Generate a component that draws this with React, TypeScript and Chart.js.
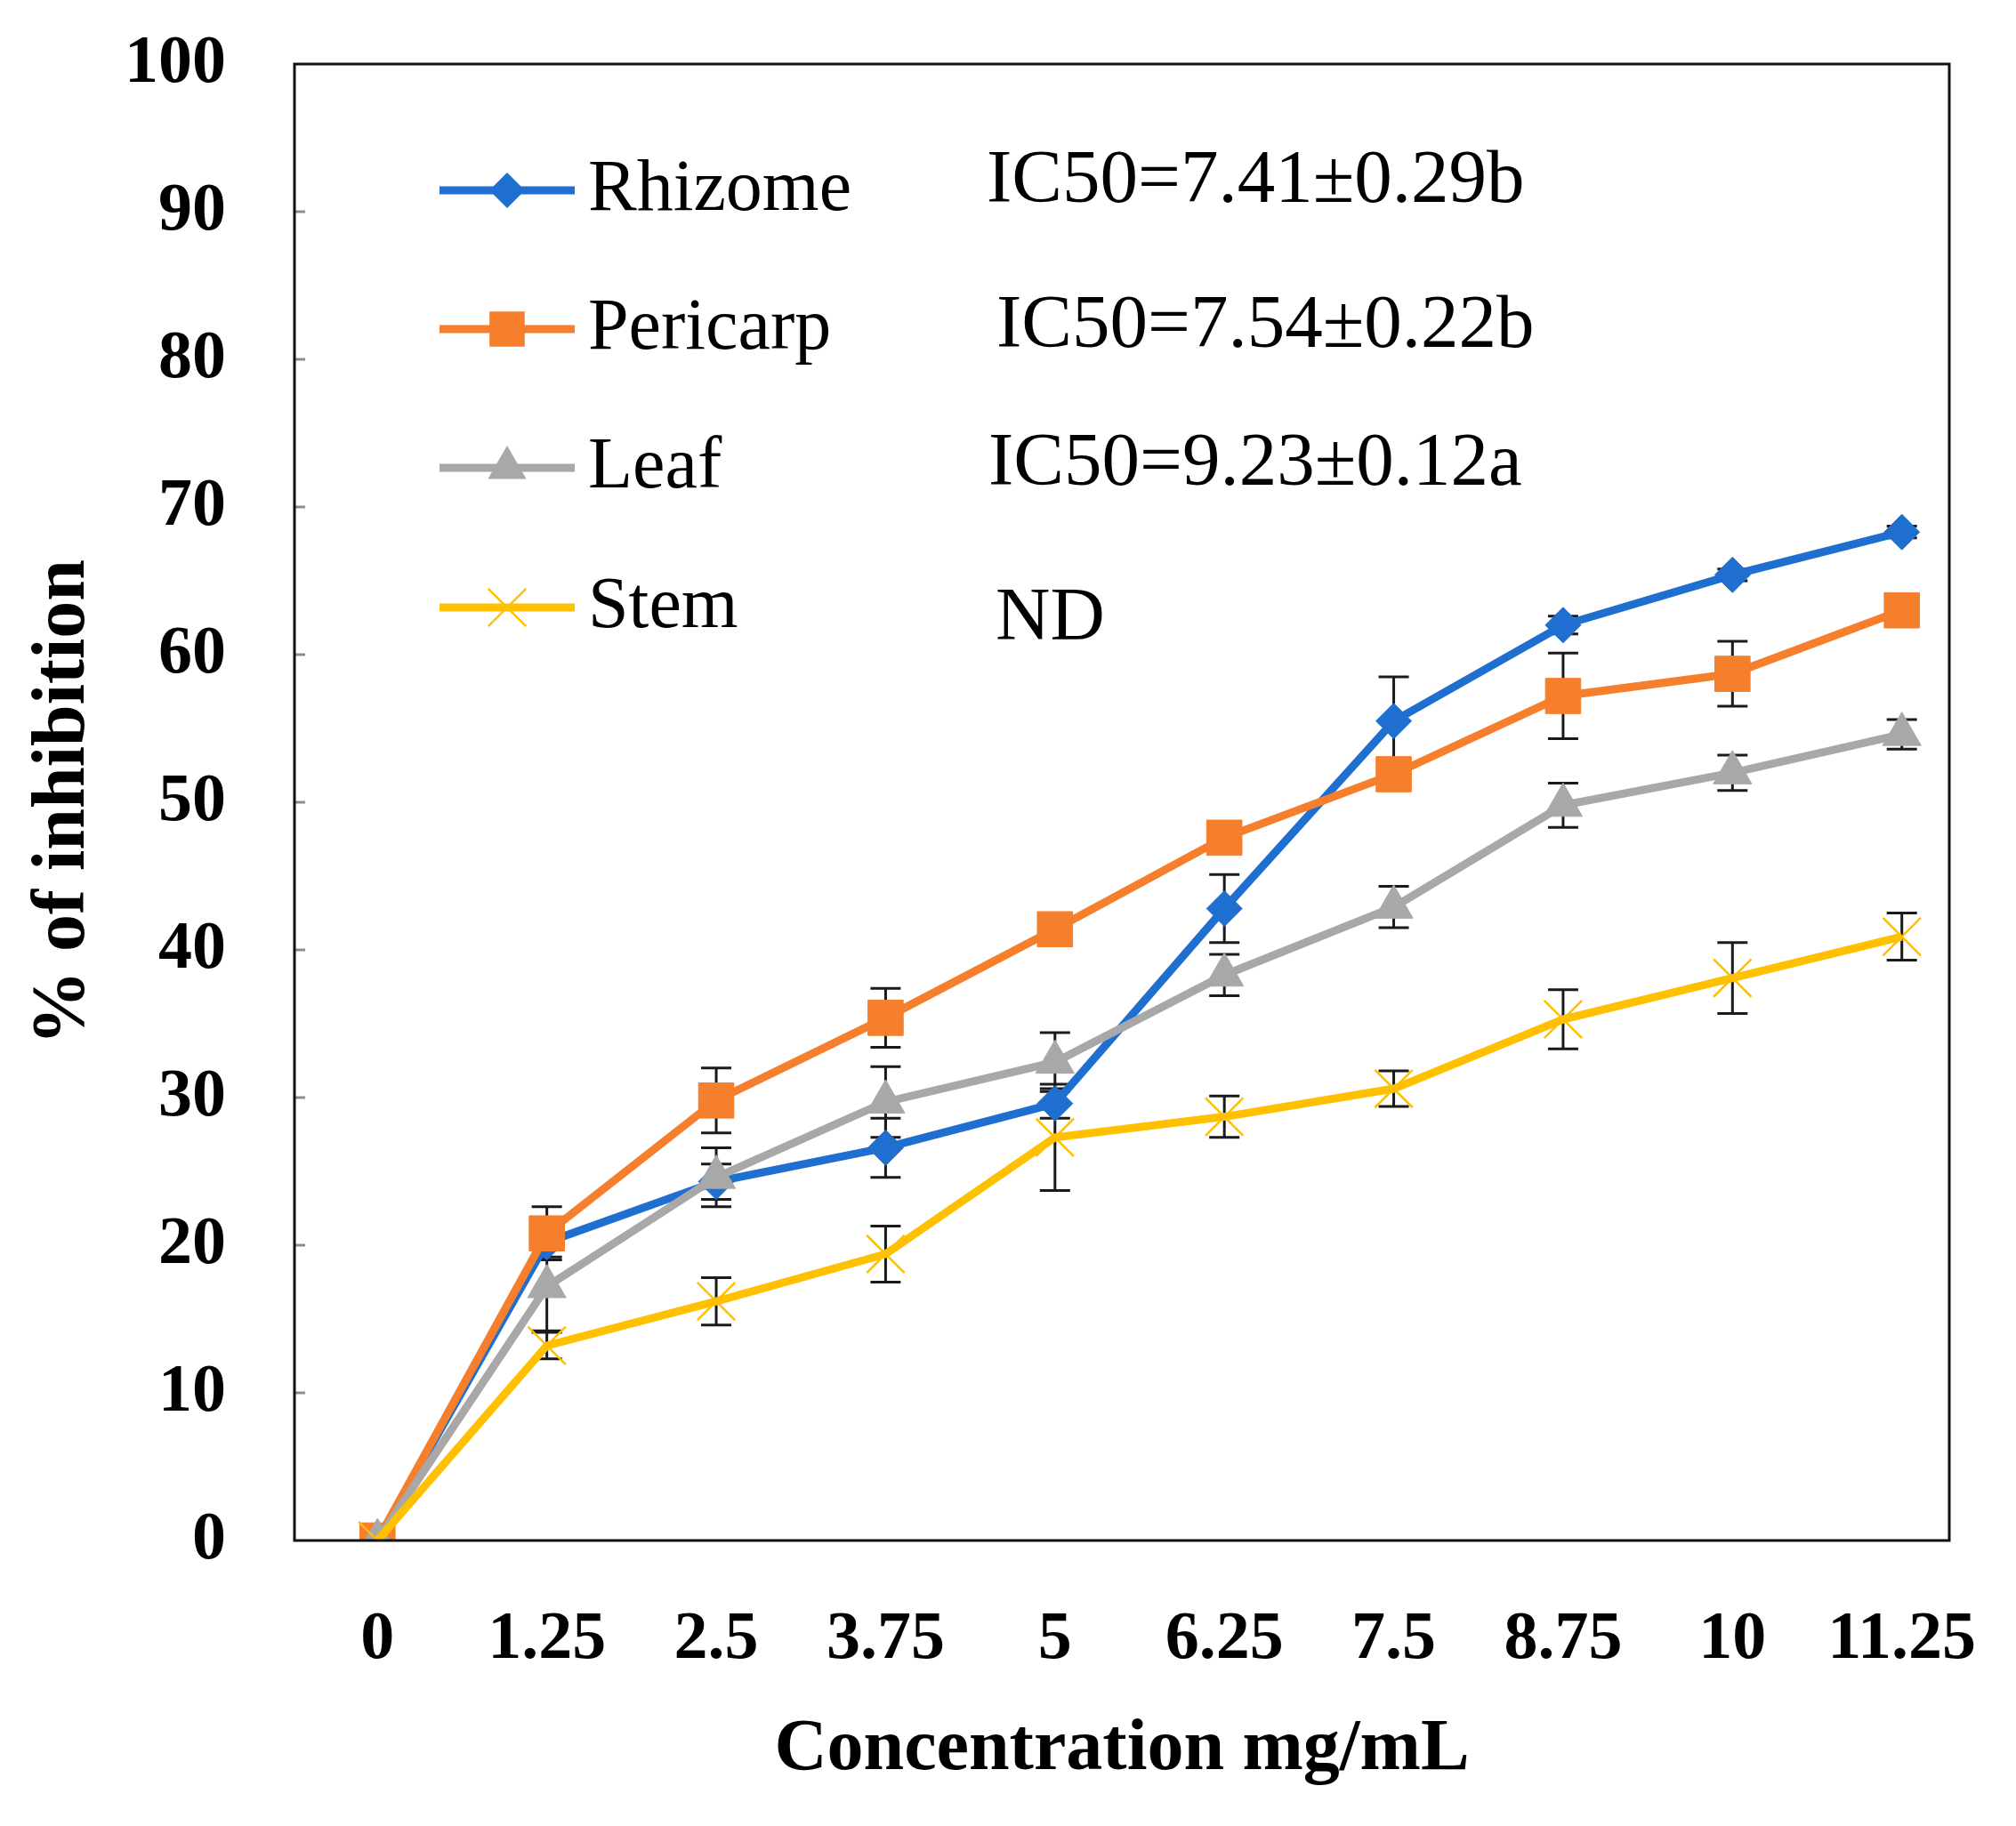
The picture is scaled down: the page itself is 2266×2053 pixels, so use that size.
import React, { useEffect, useRef } from 'react';
import { Chart, registerables } from 'chart.js';

Chart.register(...registerables);

const categories = ['0', '1.25', '2.5', '3.75', '5', '6.25', '7.5', '8.75', '10', '11.25'];

const rhizome = [0, 20.2, 24.3, 26.6, 29.6, 42.8, 55.5, 62.0, 65.4, 68.3];
const rhizomeErr = [0, 1.0, 1.2, 2.0, 1.0, 2.3, 3.0, 0.6, 0.4, 0.4];
const pericarp = [0, 20.8, 29.8, 35.4, 41.4, 47.6, 51.9, 57.2, 58.7, 63.0];
const pericarpErr = [0, 1.8, 2.2, 2.0, 0.5, 0.5, 0.9, 2.9, 2.2, 1.0];
const leaf = [0, 17.2, 24.6, 29.7, 32.4, 38.3, 42.9, 49.8, 52.0, 54.6];
const leafErr = [0, 3.0, 2.0, 2.4, 2.0, 1.4, 1.4, 1.5, 1.2, 1.0];
const stem = [0, 13.2, 16.2, 19.4, 27.3, 28.7, 30.6, 35.3, 38.1, 40.9];
const stemErr = [0, 0.9, 1.6, 1.9, 3.6, 1.4, 1.2, 2.0, 2.4, 1.6];

const seriesNames = ['Rhizome', 'Pericarp', 'Leaf', 'Stem'];
const ic50Labels = ['IC50=7.41\u00B10.29b', 'IC50=7.54\u00B10.22b', 'IC50=9.23\u00B10.12a', 'ND'];

const yMin = 0;
const yMax = 100;
const yStep = 10;
// category-axis extent (in category index units) to the frame edges
const xStart = -0.49;
const xEnd = 9.28;

const W = 2266;
const H = 2053;
const SERIF = '"Liberation Serif", "Times New Roman", serif';

function drawMarker(ctx: CanvasRenderingContext2D, style: string, x: number, y: number, r: number, color: string, bw: number) {
  ctx.save();
  ctx.fillStyle = color;
  ctx.strokeStyle = color;
  ctx.lineWidth = bw;
  ctx.beginPath();
  if (style === 'rectRot') {
    ctx.moveTo(x, y - r);
    ctx.lineTo(x + r, y);
    ctx.lineTo(x, y + r);
    ctx.lineTo(x - r, y);
    ctx.closePath();
    ctx.fill();
  } else if (style === 'rect') {
    const s = r * Math.SQRT1_2;
    ctx.rect(x - s, y - s, 2 * s, 2 * s);
    ctx.fill();
  } else if (style === 'triangle') {
    let a = 0;
    ctx.moveTo(x + Math.sin(a) * r, y - Math.cos(a) * r);
    a += (2 * Math.PI) / 3;
    ctx.lineTo(x + Math.sin(a) * r, y - Math.cos(a) * r);
    a += (2 * Math.PI) / 3;
    ctx.lineTo(x + Math.sin(a) * r, y - Math.cos(a) * r);
    ctx.closePath();
    ctx.fill();
  } else if (style === 'crossRot') {
    const d = r * Math.SQRT1_2;
    ctx.moveTo(x - d, y - d);
    ctx.lineTo(x + d, y + d);
    ctx.moveTo(x - d, y + d);
    ctx.lineTo(x + d, y - d);
    ctx.stroke();
  }
  ctx.restore();
}

const errorBarsPlugin = {
  id: 'errorBars',
  beforeDatasetsDraw(chart: any) {
    const ctx = chart.ctx;
    const yScale = chart.scales.y;
    ctx.save();
    ctx.strokeStyle = '#1a1a1a';
    ctx.lineWidth = 3;
    chart.data.datasets.forEach((ds: any, i: number) => {
      const meta = chart.getDatasetMeta(i);
      const errs = ds.errors || [];
      meta.data.forEach((pt: any, j: number) => {
        const e = errs[j];
        if (!e) return;
        const v = ds.data[j];
        const x = pt.x;
        const yt = yScale.getPixelForValue(v + e);
        const yb = yScale.getPixelForValue(v - e);
        const cap = 17;
        ctx.beginPath();
        ctx.moveTo(x, yt);
        ctx.lineTo(x, yb);
        ctx.moveTo(x - cap, yt);
        ctx.lineTo(x + cap, yt);
        ctx.moveTo(x - cap, yb);
        ctx.lineTo(x + cap, yb);
        ctx.stroke();
      });
    });
    ctx.restore();
  },
};

const framePlugin = {
  id: 'frame',
  afterDraw(chart: any) {
    const ctx = chart.ctx;
    const { left, right, top, bottom } = chart.chartArea;
    const yScale = chart.scales.y;
    ctx.save();
    ctx.strokeStyle = '#8c8c8c';
    ctx.lineWidth = 3;
    for (let v = yMin + yStep; v < yMax; v += yStep) {
      const py = yScale.getPixelForValue(v);
      ctx.beginPath();
      ctx.moveTo(left, py);
      ctx.lineTo(left + 12, py);
      ctx.stroke();
    }
    ctx.strokeStyle = '#111';
    ctx.lineWidth = 3;
    ctx.strokeRect(left, top, right - left, bottom - top);
    ctx.restore();
  },
};

const legendPlugin = {
  id: 'customLegend',
  afterDraw(chart: any) {
    const ctx = chart.ctx;
    const rowsY = [214, 370, 526, 683];
    const ic50X = [1109, 1120, 1111, 1119];
    const ic50Y = [205, 368, 523, 697];
    ctx.save();
    const byName: any = {};
    chart.data.datasets.forEach((ds: any) => { byName[ds.label] = ds; });
    seriesNames.forEach((name, i) => {
      const ds = byName[name];
      const y = rowsY[i];
      ctx.strokeStyle = ds.borderColor;
      ctx.lineWidth = ds.borderWidth;
      ctx.lineCap = 'butt';
      ctx.beginPath();
      ctx.moveTo(494, y);
      ctx.lineTo(646, y);
      ctx.stroke();
      drawMarker(ctx, ds.pointStyle, 570, y, ds.pointRadius, ds.pointBackgroundColor, ds.pointBorderWidth);
      ctx.fillStyle = '#000';
      ctx.font = `82px ${SERIF}`;
      ctx.textAlign = 'left';
      ctx.textBaseline = 'middle';
      ctx.fillText(name, 661, y);
      ctx.font = `85px ${SERIF}`;
      ctx.fillText(ic50Labels[i], ic50X[i], ic50Y[i]);
    });
    ctx.restore();
  },
};

export default function App() {
  const canvasRef = useRef<HTMLCanvasElement | null>(null);

  useEffect(() => {
    document.body.style.margin = '0';
    const canvas = canvasRef.current;
    if (!canvas) return;
    const chart = new Chart(canvas, {
      type: 'line',
      data: {
        labels: categories,
        datasets: [
          {
            label: 'Rhizome',
            data: rhizome,
            errors: rhizomeErr,
            borderColor: '#1F6FD1',
            backgroundColor: '#1F6FD1',
            pointBackgroundColor: '#1F6FD1',
            pointBorderColor: '#1F6FD1',
            pointStyle: 'rectRot',
            pointRadius: 20,
            pointBorderWidth: 1,
            borderWidth: 9,
            order: 4,
          },
          {
            label: 'Pericarp',
            data: pericarp,
            errors: pericarpErr,
            borderColor: '#F57F2C',
            backgroundColor: '#F57F2C',
            pointBackgroundColor: '#F57F2C',
            pointBorderColor: '#F57F2C',
            pointStyle: 'rect',
            pointRadius: 28,
            pointBorderWidth: 1,
            borderWidth: 9,
            order: 3,
          },
          {
            label: 'Leaf',
            data: leaf,
            errors: leafErr,
            borderColor: '#A8A8A8',
            backgroundColor: '#A8A8A8',
            pointBackgroundColor: '#A8A8A8',
            pointBorderColor: '#A8A8A8',
            pointStyle: 'triangle',
            pointRadius: 25,
            pointBorderWidth: 1,
            borderWidth: 9,
            order: 2,
          },
          {
            label: 'Stem',
            data: stem,
            errors: stemErr,
            borderColor: '#FFC000',
            backgroundColor: '#FFC000',
            pointBackgroundColor: '#FFC000',
            pointBorderColor: '#FFC000',
            pointStyle: 'crossRot',
            pointRadius: 30,
            pointBorderWidth: 2.5,
            borderWidth: 9,
            order: 1,
          },
        ] as any,
      },
      options: {
        animation: false,
        responsive: false,
        devicePixelRatio: 1,
        layout: { padding: { left: 0, right: 75, top: 72, bottom: 0 } },
        plugins: {
          legend: { display: false },
          tooltip: { enabled: false },
        },
        elements: { line: { tension: 0 } },
        scales: {
          x: {
            type: 'category',
            offset: true,
            grid: { display: false, drawTicks: false },
            border: { display: false },
            ticks: {
              color: '#000',
              padding: 67,
              maxRotation: 0,
              autoSkip: false,
              font: { family: SERIF, size: 76, weight: 'bold' },
            },
            title: {
              display: true,
              text: 'Concentration mg/mL',
              color: '#000',
              font: { family: SERIF, size: 82, weight: 'bold' },
              padding: { top: 0, bottom: 36 },
            },
            afterBuildTicks(scale: any) {
              scale._startValue = xStart;
              scale._valueRange = xEnd - xStart;
            },
            afterFit(scale: any) {
              scale.height = 321;
              scale.paddingLeft = 0;
              scale.paddingRight = 0;
            },
          },
          y: {
            min: yMin,
            max: yMax,
            grid: { display: false, drawTicks: false },
            border: { display: false },
            ticks: {
              stepSize: yStep,
              color: '#000',
              padding: 77,
              font: { family: SERIF, size: 76, weight: 'bold' },
            },
            title: {
              display: true,
              text: '% of inhibition',
              color: '#000',
              font: { family: SERIF, size: 84, weight: 'bold' },
              padding: { top: 22, bottom: 0 },
            },
            afterFit(scale: any) {
              scale.width = 331;
              scale.paddingTop = 0;
              scale.paddingBottom = 0;
            },
          },
        },
      } as any,
      plugins: [errorBarsPlugin, framePlugin, legendPlugin],
    });
    return () => {
      chart.destroy();
    };
  }, []);

  return (
    <div style={{ width: W, height: H, background: '#fff' }}>
      <canvas ref={canvasRef} width={W} height={H} style={{ display: 'block', width: W, height: H }} />
    </div>
  );
}
